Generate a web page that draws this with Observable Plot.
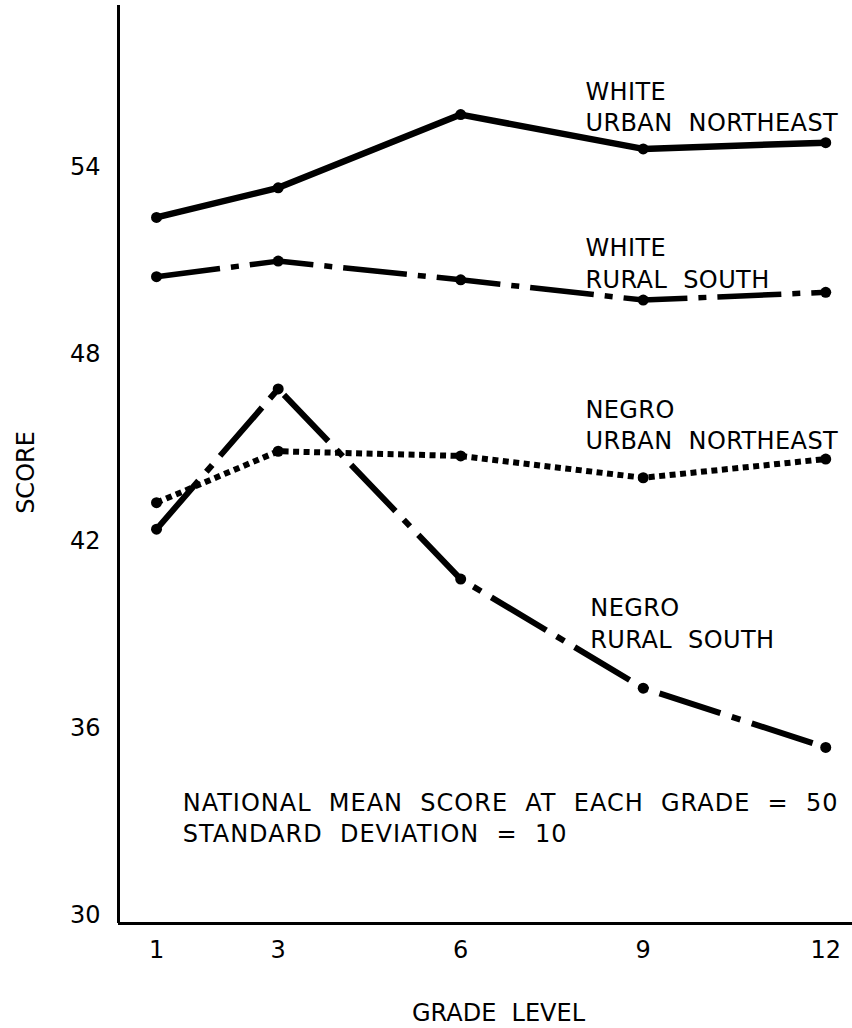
<!DOCTYPE html>
<html><head><meta charset="utf-8">
<script src="https://cdn.jsdelivr.net/npm/d3@7"></script>
<script src="https://cdn.jsdelivr.net/npm/@observablehq/plot@0.6"></script>
<style>html,body{margin:0;padding:0;background:#fff;} svg{display:block;}</style>
</head><body><div id="chart"></div>
<script>
// ---- data ----
const grades = [1, 3, 6, 9, 12];
const seriesNames = ["WHITE URBAN NORTHEAST", "WHITE RURAL SOUTH", "NEGRO URBAN NORTHEAST", "NEGRO RURAL SOUTH"];
const whiteUrbanNortheast = [52.4, 53.35, 55.7, 54.6, 54.8];
const whiteRuralSouth     = [50.5, 51.0, 50.4, 49.75, 50.0];
const negroUrbanNortheast = [43.25, 44.9, 44.75, 44.05, 44.65];
const negroRuralSouth     = [42.4, 46.9, 40.8, 37.3, 35.4];
const xTicks = [1, 3, 6, 9, 12];
const yTicks = [30, 36, 42, 48, 54];
const seriesLabels = ["WHITE\nURBAN  NORTHEAST", "WHITE\nRURAL  SOUTH", "NEGRO\nURBAN  NORTHEAST", "NEGRO\nRURAL  SOUTH"];
const noteText = "NATIONAL  MEAN  SCORE  AT  EACH  GRADE  =  50\nSTANDARD  DEVIATION  =  10";
const yTitle = "SCORE";
const xTitle = "GRADE  LEVEL";

// ---- build table ----
const seriesValues = [whiteUrbanNortheast, whiteRuralSouth, negroUrbanNortheast, negroRuralSouth];
const rows = seriesNames.flatMap((s, i) => grades.map((g, j) => ({series: s, grade: g, score: seriesValues[i][j]})));
const bySeries = s => rows.filter(d => d.series === s);

// ---- layout ----
const xDomain = [0.375, 12.44];
const yDomain = [29.75, 59.2];
const font = "DejaVu Sans";
const labelAnchors = [[8.05, 56.0], [8.05, 50.97], [8.05, 45.79], [8.13, 39.42]];

const styles = [
  {strokeWidth: 6.5},
  {strokeWidth: 5.5, strokeDasharray: "64,11,8,11", strokeLinecap: "butt"},
  {strokeWidth: 6, strokeDasharray: "6,4.5", strokeLinecap: "butt"},
  {strokeWidth: 6, strokeDasharray: "64,12,9,12", strokeLinecap: "butt"}
];

const chart = Plot.plot({
  width: 852,
  height: 1028,
  marginLeft: 118,
  marginRight: 0,
  marginTop: 5,
  marginBottom: 105,
  style: {fontFamily: font, fontSize: "24px", color: "#000", background: "#fff"},
  x: {domain: xDomain, ticks: xTicks, tickSize: 0, tickPadding: 17, label: null, tickFormat: d => String(d)},
  y: {domain: yDomain, ticks: yTicks, tickSize: 0, tickPadding: 18, label: null},
  marks: [
    Plot.ruleX([xDomain[0]], {strokeWidth: 3}),
    Plot.ruleY([yDomain[0]], {strokeWidth: 3}),
    ...seriesNames.map((s, i) => Plot.line(bySeries(s), {x: "grade", y: "score", stroke: "#000", ...styles[i]})),
    Plot.dot(rows, {x: "grade", y: "score", r: 5.5, fill: "#000"}),
    Plot.text(seriesLabels, {
      x: (d, i) => labelAnchors[i][0], y: (d, i) => labelAnchors[i][1],
      text: d => d, textAnchor: "start", lineAnchor: "middle", lineHeight: 1.3,
      fontSize: 24, fontFamily: font, fill: "#000"
    }),
    Plot.text([noteText], {x: 1.43, y: 33.18, text: d => d, textAnchor: "start", lineAnchor: "middle", lineHeight: 1.3, fontSize: 24, fontFamily: font, fill: "#000"}),
    Plot.text([yTitle], {frameAnchor: "left", dx: -92, dy: 8, rotate: -90, text: d => d, textAnchor: "middle", lineAnchor: "middle", fontSize: 24, fontFamily: font, fill: "#000"}),
    Plot.text([xTitle], {frameAnchor: "bottom", dx: 13, dy: 90, text: d => d, textAnchor: "middle", lineAnchor: "middle", fontSize: 24, fontFamily: font, fill: "#000"})
  ]
});
// letter spacing tweaks
d3.select(chart).selectAll("text").each(function() {
  const t = this.textContent;
  if (t.startsWith("NATIONAL")) this.setAttribute("letter-spacing", "1");
  else if (t.includes("URBAN") || t.includes("RURAL")) this.setAttribute("letter-spacing", "0.4");
});
document.getElementById("chart").appendChild(chart);
</script>
</body></html>
